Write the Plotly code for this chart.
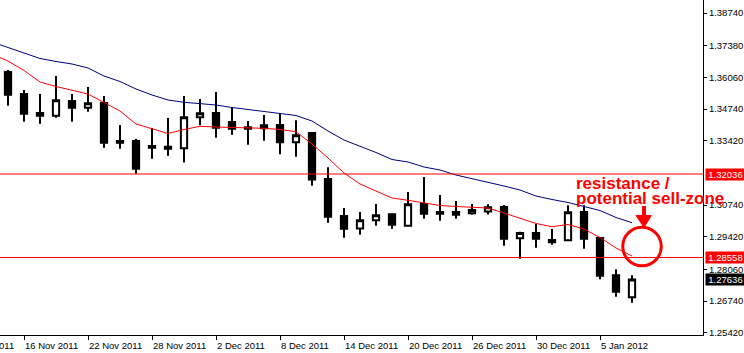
import plotly.graph_objects as go

# ---- data (EURUSD daily) ----
dates = ["15 Nov", "16 Nov", "17 Nov", "18 Nov", "21 Nov", "22 Nov", "23 Nov", "24 Nov",
         "25 Nov", "28 Nov", "29 Nov", "30 Nov", "1 Dec", "2 Dec", "5 Dec", "6 Dec",
         "7 Dec", "8 Dec", "9 Dec", "12 Dec", "13 Dec", "14 Dec", "15 Dec", "16 Dec",
         "19 Dec", "20 Dec", "21 Dec", "22 Dec", "23 Dec", "26 Dec", "27 Dec", "28 Dec",
         "29 Dec", "30 Dec", "2 Jan", "3 Jan", "4 Jan", "5 Jan", "6 Jan", "9 Jan"]

opens = [1.36286, 1.35369, 1.34578, 1.34465, 1.35078, 1.34799, 1.34994, 1.33411,
         1.33411, 1.33203, 1.33174, 1.33107, 1.34399, 1.34578, 1.34203, 1.33982,
         1.33940, 1.34078, 1.33357, 1.33744, 1.31828, 1.30286, 1.29765, 1.30107,
         1.30357, 1.29882, 1.30786, 1.30453, 1.30453, 1.30399, 1.30474, 1.30661,
         1.29357, 1.29578, 1.29190, 1.29274, 1.30453, 1.29369, 1.27815, 1.26899]
highs = [1.36369, 1.35536, 1.35369, 1.36119, 1.35369, 1.35661, 1.35286, 1.34078,
         1.33494, 1.33953, 1.34369, 1.35286, 1.35161, 1.35453, 1.34828, 1.34244,
         1.34494, 1.34565, 1.34274, 1.33786, 1.32315, 1.30619, 1.30453, 1.30786,
         1.30399, 1.31286, 1.31911, 1.31161, 1.30911, 1.30786, 1.30774, 1.30744,
         1.29632, 1.29953, 1.29744, 1.30732, 1.30732, 1.29369, 1.28065, 1.27815]
lows = [1.34882, 1.34215, 1.34132, 1.34382, 1.34215, 1.34632, 1.33132, 1.33090,
        1.32049, 1.32674, 1.32799, 1.32515, 1.34065, 1.33549, 1.33674, 1.33257,
        1.33424, 1.32857, 1.32757, 1.31549, 1.30007, 1.29382, 1.29507, 1.29882,
        1.29757, 1.29840, 1.30174, 1.30090, 1.30174, 1.30340, 1.30349, 1.29049,
        1.28507, 1.28965, 1.29090, 1.29265, 1.28924, 1.27649, 1.26924, 1.26674]
closes = [1.35340, 1.34549, 1.34465, 1.35107, 1.34799, 1.34982, 1.33340, 1.33340,
          1.32257, 1.33132, 1.33090, 1.34399, 1.34565, 1.33965, 1.33924, 1.33924,
          1.34065, 1.33357, 1.33649, 1.31807, 1.30257, 1.29757, 1.30111, 1.30315,
          1.29924, 1.30774, 1.30382, 1.30382, 1.30340, 1.30536, 1.30649, 1.29340,
          1.29578, 1.29340, 1.29286, 1.30440, 1.29340, 1.27799, 1.27132, 1.27636]

# moving averages, starting one bar before the first visible candle (14 Nov)
ma_fast = [1.37036, 1.36744, 1.36349, 1.35869, 1.35682, 1.35515, 1.35369, 1.35015,
           1.34661, 1.34119, 1.33932, 1.33724, 1.33890, 1.34024, 1.33994, 1.33982,
           1.33953, 1.33940, 1.33890, 1.33799, 1.33286, 1.32703, 1.32078, 1.31619,
           1.31328, 1.31036, 1.30940, 1.30828, 1.30724, 1.30682, 1.30661, 1.30619,
           1.30411, 1.30203, 1.29974, 1.29840, 1.29932, 1.29744, 1.29390, 1.28953,
           1.28619]
ma_slow = [1.37536, 1.37307, 1.37099, 1.36849, 1.36724, 1.36619, 1.36453, 1.36119,
           1.35890, 1.35578, 1.35328, 1.35119, 1.35024, 1.34982, 1.34911, 1.34807,
           1.34724, 1.34619, 1.34557, 1.34474, 1.34244, 1.33828, 1.33453, 1.33203,
           1.32932, 1.32640, 1.32536, 1.32328, 1.32203, 1.31994, 1.31849, 1.31703,
           1.31536, 1.31369, 1.31119, 1.30974, 1.30849, 1.30682, 1.30515, 1.30224,
           1.30007]

tick_pos = [-3, 1, 5, 9, 13, 17, 21, 25, 29, 33, 37]
tick_labels = ["10 Nov 2011", "16 Nov 2011", "22 Nov 2011", "28 Nov 2011", "2 Dec 2011",
               "8 Dec 2011", "14 Dec 2011", "20 Dec 2011", "26 Dec 2011", "30 Dec 2011",
               "5 Jan 2012"]
price_ticks = [1.38740, 1.37380, 1.36060, 1.34740, 1.33420, 1.30740, 1.29420,
               1.28060, 1.26740, 1.25420]
levels = [1.32036, 1.28558]
last_price = closes[-1]
note_lines = ["resistance /", "potential sell-zone"]

# ---- figure ----
idx = list(range(len(opens)))
ma_idx = list(range(-1, len(opens)))
X_RANGE = [-0.5, 43.4375]
Y_RANGE = [1.25328, 1.39286]
RED = "#ff0000"
FONT = "Liberation Sans"

fig = go.Figure()
fig.add_trace(go.Candlestick(
    x=idx, open=opens, high=highs, low=lows, close=closes,
    increasing=dict(line=dict(color="black", width=2), fillcolor="white"),
    decreasing=dict(line=dict(color="black", width=2), fillcolor="black"),
    whiskerwidth=0, hoverinfo="skip", showlegend=False))
fig.add_trace(go.Scatter(x=ma_idx, y=ma_slow, mode="lines",
                         line=dict(color="#000080", width=1), hoverinfo="skip"))
fig.add_trace(go.Scatter(x=ma_idx, y=ma_fast, mode="lines",
                         line=dict(color=RED, width=1), hoverinfo="skip"))
for lv in levels:
    fig.add_trace(go.Scatter(x=X_RANGE, y=[lv, lv], mode="lines",
                             line=dict(color=RED, width=1), hoverinfo="skip"))

shapes = []
# circle + arrow marking the zone
shapes.append(dict(type="circle", xref="x", yref="y", x0=38.42, x1=40.83,
                   y0=1.28211, y1=1.29819, line=dict(color=RED, width=3)))
shapes.append(dict(type="line", xref="x", yref="y", x0=39.75, x1=39.75,
                   y0=1.30703, y1=1.30300, line=dict(color=RED, width=4)))
shapes.append(dict(type="path", xref="x", yref="y",
                   path="M 39.25,1.30307 L 40.21,1.30307 L 39.75,1.29815 Z",
                   fillcolor=RED, line=dict(color=RED, width=1)))

annotations = []
span = X_RANGE[1] - X_RANGE[0]
for p, t in zip(tick_pos, tick_labels):
    annotations.append(dict(x=(p - X_RANGE[0]) / span, xref="paper", y=0, yref="paper",
                            xanchor="left", yanchor="top", yshift=-3, xshift=-1,
                            text=t, showarrow=False,
                            font=dict(family=FONT, size=9.5, color="black")))
for lv, bg in [(levels[0], RED), (levels[1], RED), (last_price, "black")]:
    annotations.append(dict(x=1, xref="paper", y=lv, yref="y", xanchor="left",
                            yanchor="middle", xshift=2, text=f"{lv:.5f}", showarrow=False,
                            bgcolor=bg, borderpad=0, width=39, align="center",
                            font=dict(family=FONT, size=9.5, color="white")))
for line_text, yv in zip(note_lines, [1.31661, 1.31036]):
    annotations.append(dict(x=35.375, xref="x", y=yv, yref="y", xanchor="left",
                            yanchor="middle", text=line_text, showarrow=False,
                            font=dict(family=FONT, size=17, color=RED, weight="bold")))

fig.update_layout(
    width=744, height=353,
    margin=dict(l=0, r=41, t=0, b=18),
    paper_bgcolor="white", plot_bgcolor="white",
    showlegend=False, boxgap=0.44,
    font=dict(family=FONT, size=9.5, color="black"),
    shapes=shapes, annotations=annotations,
    xaxis=dict(range=X_RANGE, showgrid=False, zeroline=False,
               showline=True, linecolor="black", linewidth=1,
               ticks="outside", ticklen=4, tickcolor="black", tickwidth=1,
               tickvals=tick_pos, showticklabels=False,
               rangeslider=dict(visible=False), fixedrange=True),
    yaxis=dict(side="right", range=Y_RANGE, showgrid=False, zeroline=False,
               showline=True, linecolor="black", linewidth=1,
               ticks="outside", ticklen=3, tickcolor="black", tickwidth=1,
               tickvals=price_ticks, ticktext=[f"{v:.5f}" for v in price_ticks],
               tickfont=dict(family=FONT, size=9.5, color="black"), fixedrange=True),
)

fig.write_html("out.html")
